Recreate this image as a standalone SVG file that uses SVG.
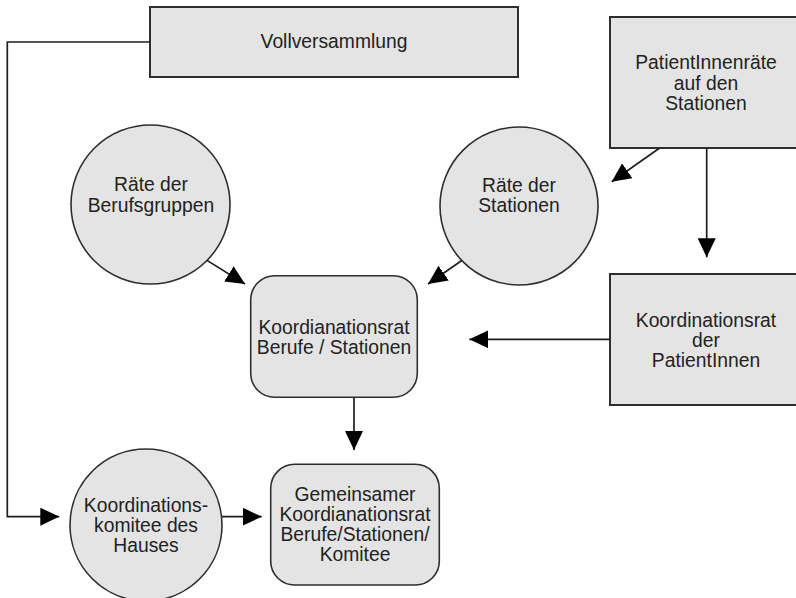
<svg xmlns="http://www.w3.org/2000/svg" width="796" height="598" viewBox="0 0 796 598">
<defs>
<style>
.box{fill:#e4e4e4;stroke:#2e2e2e;stroke-width:2}
.circ{fill:#e4e4e4;stroke:#2e2e2e;stroke-width:1.6}
.t{font-family:"Liberation Sans",Arial,sans-serif;font-size:19.3px;fill:#222;text-anchor:middle}
.c{fill:none;stroke:#1e1e1e;stroke-width:1.7}
</style>
<marker id="ah" markerUnits="userSpaceOnUse" markerWidth="19" markerHeight="18" refX="19" refY="9" orient="auto">
<path d="M0,0 L19,9 L0,18 z" fill="#000"/>
</marker>
</defs>
<rect width="796" height="598" fill="#fff"/>

<g id="vollversammlung">
<rect class="box" x="150" y="7" width="368" height="70"/>
<text class="t" x="334" y="48">Vollversammlung</text>
</g>

<g id="patientinnenraete">
<rect class="box" x="610" y="17" width="192" height="131"/>
<text class="t" x="706" y="69">PatientInnenräte</text>
<text class="t" x="706" y="90">auf den</text>
<text class="t" x="706" y="110">Stationen</text>
</g>

<g id="raete-berufsgruppen">
<circle class="circ" cx="150.5" cy="204.5" r="79.5"/>
<text class="t" x="151" y="191">Räte der</text>
<text class="t" x="151" y="211.5">Berufsgruppen</text>
</g>

<g id="raete-stationen">
<circle class="circ" cx="519" cy="206" r="79"/>
<text class="t" x="519" y="192">Räte der</text>
<text class="t" x="519" y="212">Stationen</text>
</g>

<g id="koordinationsrat-berufe-stationen">
<rect class="box" x="250.7" y="275.7" width="166.6" height="121.6" rx="24" ry="24" style="stroke-width:1.6"/>
<text class="t" x="334" y="334">Koordianationsrat</text>
<text class="t" x="334" y="353.5">Berufe / Stationen</text>
</g>

<g id="koordinationsrat-patientinnen">
<rect class="box" x="610" y="274" width="192" height="131"/>
<text class="t" x="706" y="326.7">Koordinationsrat</text>
<text class="t" x="706" y="347.3">der</text>
<text class="t" x="706" y="366.7">PatientInnen</text>
</g>

<g id="koordinationskomitee">
<circle class="circ" cx="146" cy="525" r="76"/>
<text class="t" x="146" y="511.7">Koordinations-</text>
<text class="t" x="146" y="531.7">komitee des</text>
<text class="t" x="146" y="551.7">Hauses</text>
</g>

<g id="gemeinsamer-koordinationsrat">
<rect class="box" x="270.7" y="464.3" width="168.6" height="120.7" rx="24" ry="24" style="stroke-width:1.6"/>
<text class="t" x="355" y="501">Gemeinsamer</text>
<text class="t" x="355" y="521.2">Koordianationsrat</text>
<text class="t" x="355" y="541.2">Berufe/Stationen/</text>
<text class="t" x="355" y="561.4">Komitee</text>
</g>

<g id="connectors">
<polyline class="c" points="150,42 7.3,42 7.3,516.7 59.3,516.7" marker-end="url(#ah)"/>
<line class="c" x1="207" y1="260.4" x2="245" y2="284" marker-end="url(#ah)"/>
<line class="c" x1="461.8" y1="260.5" x2="428" y2="284" marker-end="url(#ah)"/>
<line class="c" x1="659.3" y1="148.3" x2="611.7" y2="181.7" marker-end="url(#ah)"/>
<line class="c" x1="706.7" y1="148" x2="706.7" y2="257.3" marker-end="url(#ah)"/>
<line class="c" x1="610" y1="339.3" x2="469.3" y2="339.3" marker-end="url(#ah)"/>
<line class="c" x1="354" y1="397.3" x2="354" y2="450" marker-end="url(#ah)"/>
<line class="c" x1="222" y1="516.7" x2="261.7" y2="516.7" marker-end="url(#ah)"/>
</g>
</svg>
